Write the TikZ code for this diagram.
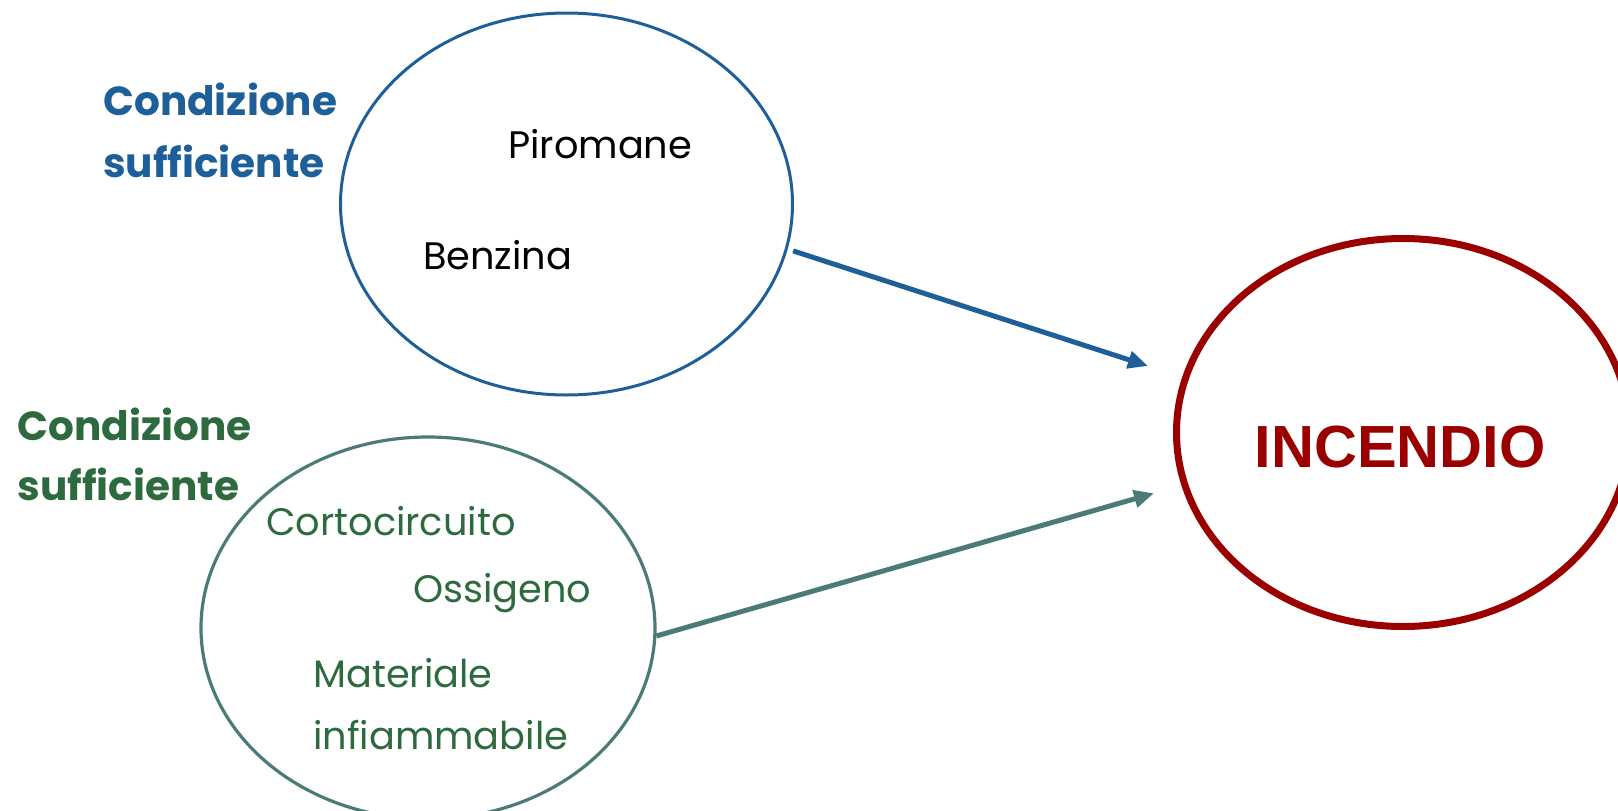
\documentclass[tikz,border=0pt]{standalone}
\usepackage{fontspec}
\setmainfont{Poppins}
\newfontfamily\incfont{Liberation Sans}
\usetikzlibrary{shapes.geometric,arrows.meta}
\definecolor{cblue}{HTML}{1F5F99}
\definecolor{cteal}{HTML}{4A7B76}
\definecolor{cgreen}{HTML}{2D6A3E}
\definecolor{cred}{HTML}{9B0000}
\begin{document}
\begin{tikzpicture}[x=1pt,y=-1pt,
  ell/.style={ellipse,inner sep=0pt,fill=none},
  lbl/.style={anchor=base west,inner sep=0pt,font=\fontsize{38.3}{40}\selectfont},
  head/.style={anchor=base west,inner sep=0pt,font=\fontsize{40.6}{42}\selectfont\bfseries},
  conn/.style={line width=5pt,-{Triangle[length=20pt,width=17pt]}}]
\useasboundingbox (0,0) rectangle (1618,811);
\clip (0,0) rectangle (1618,811);
% ellipses
\node[ell,draw=cblue,line width=3pt,minimum width=452pt,minimum height=382pt] (suff1) at (566.5,204) {};
\node[ell,draw=cteal,line width=3.2pt,minimum width=454pt,minimum height=382pt] (suff2) at (428,628) {};
\node[ell,draw=cred,line width=7pt,minimum width=453pt,minimum height=388pt] (inc) at (1403,432.5) {};
% texts
\node[head,text=cblue] (h1a) at (103,115) {Condizione};
\node[head,text=cblue] (h1b) at (103,177) {sufficiente};
\node[lbl] (piro) at (508,158) {Piromane};
\node[lbl] (benz) at (423,269) {Benzina};
\node[head,text=cgreen] (h2a) at (17.5,440) {Condizione};
\node[head,text=cgreen] (h2b) at (17.5,500) {sufficiente};
\node[lbl,text=cgreen] (corto) at (266,535) {Cortocircuito};
\node[lbl,text=cgreen] (ossi) at (413,602) {Ossigeno};
\node[lbl,text=cgreen] (mat) at (313,687) {Materiale};
\node[lbl,text=cgreen] (infi) at (313,749) {infiammabile};
\node[anchor=base,inner sep=0pt,text=cred,font=\incfont\fontsize{59.5}{61}\selectfont\bfseries] (inctext) at (1400,467) {INCENDIO};
% connectors
\coordinate (t1) at (1148,366);
\coordinate (t2) at (1154,493.3);
\draw[conn,draw=cblue,fill=cblue] ([xshift=6pt]suff1.-12) -- (t1);
\draw[conn,draw=cteal,fill=cteal] (suff2.-2) -- (t2);
\end{tikzpicture}
\end{document}
